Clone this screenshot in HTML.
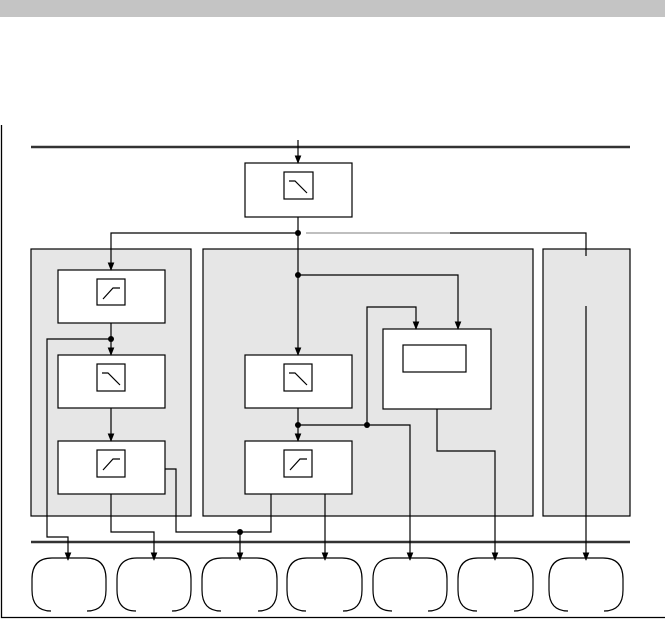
<!DOCTYPE html>
<html><head><meta charset="utf-8"><style>html,body{margin:0;padding:0;background:#fff}svg{display:block}</style></head><body>
<svg width="665" height="619" viewBox="0 0 665 619" xmlns="http://www.w3.org/2000/svg">
<defs><marker id="a" viewBox="0 0 10 10" refX="9" refY="5" markerWidth="7" markerHeight="7" orient="auto"><path d="M0,1 L10,5 L0,9 Z" fill="#000"/></marker></defs>
<rect x="0" y="0" width="665" height="17" fill="#c4c4c4"/>
<g stroke="#000" stroke-width="1.3" fill="none">
<path d="M1.5,125 V617.5 H665"/>
</g>
<line x1="31" y1="147" x2="630" y2="147" stroke="#333" stroke-width="2.5"/>
<line x1="31" y1="542" x2="630" y2="542" stroke="#333" stroke-width="2.5"/>
<g stroke="#000" stroke-width="1.2">
<rect x="31" y="249" width="160" height="267" fill="#e6e6e6"/>
<rect x="203" y="249" width="330" height="267" fill="#e6e6e6"/>
<rect x="543" y="249" width="87" height="267" fill="#e6e6e6"/>
<rect x="245" y="163" width="107" height="54" fill="#fff"/>
<rect x="58" y="270" width="107" height="53" fill="#fff"/>
<rect x="58" y="355" width="107" height="53" fill="#fff"/>
<rect x="58" y="441" width="107" height="53" fill="#fff"/>
<rect x="245" y="355" width="107" height="53" fill="#fff"/>
<rect x="245" y="441" width="107" height="53" fill="#fff"/>
<rect x="383" y="329" width="108" height="80" fill="#fff"/>
<rect x="403" y="345" width="63" height="27" fill="#fff"/>
<rect x="284" y="172" width="29" height="27" fill="#fff"/>
<rect x="97" y="279" width="28" height="26" fill="#fff"/>
<rect x="97" y="364" width="28" height="27" fill="#fff"/>
<rect x="97" y="450" width="28" height="27" fill="#fff"/>
<rect x="284" y="364" width="28" height="27" fill="#fff"/>
<rect x="284" y="450" width="28" height="27" fill="#fff"/>
</g>
<g stroke="#000" stroke-width="1.2" fill="none">
<path d="M289,181 H295 L307,193"/>
<path d="M289,373 H295 L307,385"/>
<path d="M102,373 H108 L120,385"/>
<path d="M103,299 L113,288 H120"/>
<path d="M103,470 L113,459 H120"/>
<path d="M290,470 L300,459 H307"/>
</g>
<g stroke="#000" stroke-width="1.2" fill="none" marker-end="url(#a)">
<path d="M298,140 V163"/>
<path d="M298,217 V233 H111 V270"/>
<path d="M298,233 V355"/>
<path d="M298,275 H458 V329"/>
<path d="M111,323 V355"/>
<path d="M111,408 V441"/>
<path d="M298,408 V441"/>
<path d="M111,339 H47 V537 H68 V560"/>
<path d="M111,494 V532 H154 V560"/>
<path d="M240,532 V560"/>
<path d="M325,494 V560"/>
<path d="M298,425 H410 V560"/>
<path d="M367,425 V307 H416 V329"/>
<path d="M437,409 V451 H495 V560"/>
<path d="M586,306 V560"/>
</g>
<path d="M165,469 H176 V532 H271 V494" stroke="#000" stroke-width="1.2" fill="none"/>
<path d="M306,233 H450" stroke="#999" stroke-width="1.2" fill="none"/>
<path d="M450,233 H586 V256" stroke="#000" stroke-width="1.2" fill="none"/>
<g fill="#000"><circle cx="298" cy="233" r="3"/><circle cx="298" cy="275" r="3"/><circle cx="111" cy="339" r="3"/><circle cx="298" cy="425" r="3"/><circle cx="367" cy="425" r="3"/><circle cx="240" cy="532" r="3"/></g>
<g stroke="#000" stroke-width="1.2" fill="none">
<path d="M51,611 Q32,611 32,590 V579 Q32,558 52,558 H86 Q106,558 106,579 V590 Q106,611 87,611"/>
<path d="M136,611 Q117,611 117,590 V579 Q117,558 137,558 H171 Q191,558 191,579 V590 Q191,611 172,611"/>
<path d="M221,611 Q202,611 202,590 V579 Q202,558 222,558 H257 Q277,558 277,579 V590 Q277,611 258,611"/>
<path d="M306,611 Q287,611 287,590 V579 Q287,558 307,558 H342 Q362,558 362,579 V590 Q362,611 343,611"/>
<path d="M392,611 Q373,611 373,590 V579 Q373,558 393,558 H427 Q447,558 447,579 V590 Q447,611 428,611"/>
<path d="M477,611 Q458,611 458,590 V579 Q458,558 478,558 H513 Q533,558 533,579 V590 Q533,611 514,611"/>
<path d="M568,611 Q549,611 549,590 V579 Q549,558 569,558 H603 Q623,558 623,579 V590 Q623,611 604,611"/>
</g>
</svg>
</body></html>
